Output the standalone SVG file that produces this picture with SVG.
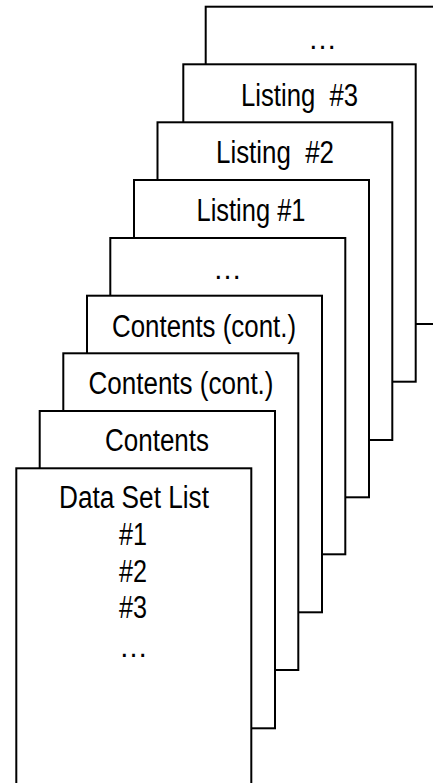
<svg xmlns="http://www.w3.org/2000/svg" width="433" height="783" viewBox="0 0 433 783">
<style>
.page{fill:#fff;stroke:#000;stroke-width:2}
.t{font-family:"Liberation Sans",Arial,sans-serif;font-size:31px;fill:#000;text-anchor:middle;white-space:pre}
.e{font-family:"Liberation Sans",Arial,sans-serif;font-size:29px;fill:#000;text-anchor:middle}
</style>
<rect width="433" height="783" fill="#fff"/>
<g id="page8"><rect class="page" x="205.7" y="6.7" width="235" height="317.3"/><text class="e" x="322.5" y="49">…</text></g>
<g id="page7"><rect class="page" x="183.3" y="64.3" width="232.4" height="317.4"/><text class="t" x="299.5" y="105.7" textLength="117" lengthAdjust="spacingAndGlyphs">Listing  #3</text></g>
<g id="page6"><rect class="page" x="157.5" y="122.3" width="234.8" height="317.7"/><text class="t" x="275" y="163.3" textLength="118" lengthAdjust="spacingAndGlyphs">Listing  #2</text></g>
<g id="page5"><rect class="page" x="134" y="180" width="235" height="317.3"/><text class="t" x="251" y="221" textLength="109" lengthAdjust="spacingAndGlyphs">Listing #1</text></g>
<g id="page4"><rect class="page" x="110.3" y="238" width="235" height="316.3"/><text class="e" x="227.5" y="279">…</text></g>
<g id="page3"><rect class="page" x="87" y="295.7" width="235" height="316.6"/><text class="t" x="204" y="336.5" textLength="184" lengthAdjust="spacingAndGlyphs">Contents (cont.)</text></g>
<g id="page2"><rect class="page" x="63.3" y="353.3" width="235" height="316.7"/><text class="t" x="181" y="394" textLength="185" lengthAdjust="spacingAndGlyphs">Contents (cont.)</text></g>
<g id="page1"><rect class="page" x="39.7" y="411" width="235.3" height="317.3"/><text class="t" x="157" y="451" textLength="104" lengthAdjust="spacingAndGlyphs">Contents</text></g>
<g id="page0"><rect class="page" x="16.3" y="468.3" width="235" height="320"/>
<text class="t" x="134" y="507.7" textLength="150" lengthAdjust="spacingAndGlyphs">Data Set List</text>
<text class="t" x="133" y="545" textLength="28" lengthAdjust="spacingAndGlyphs">#1</text>
<text class="t" x="133" y="581.7" textLength="28" lengthAdjust="spacingAndGlyphs">#2</text>
<text class="t" x="133" y="618.3" textLength="28" lengthAdjust="spacingAndGlyphs">#3</text>
<text class="e" x="133.5" y="656.5">…</text></g>
<g id="connectors"/>
</svg>
